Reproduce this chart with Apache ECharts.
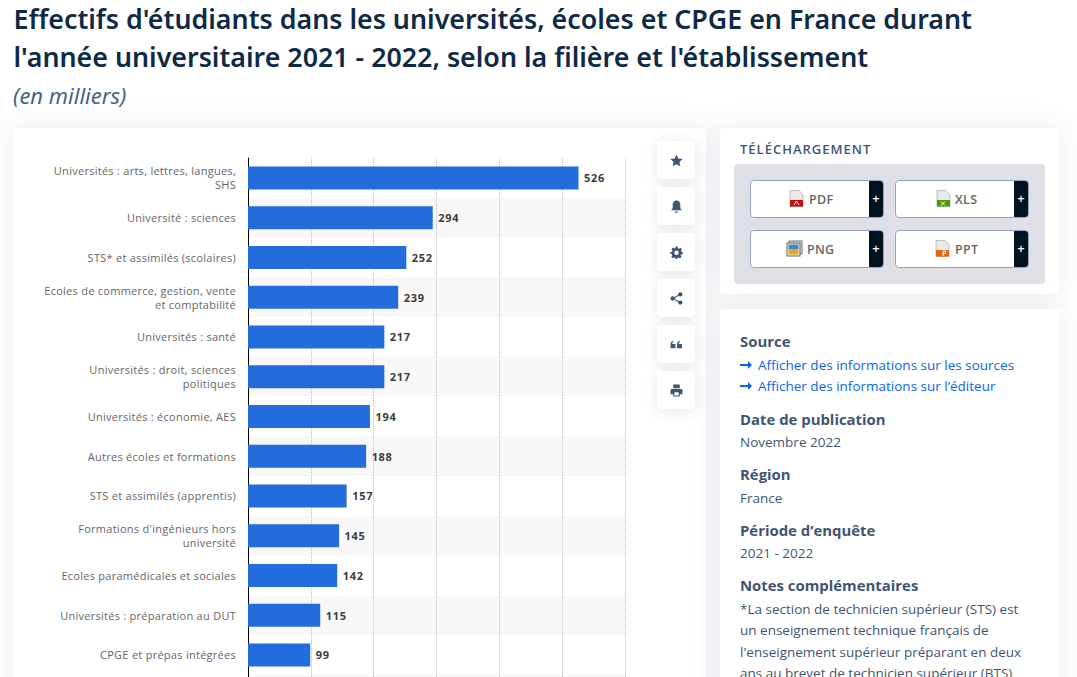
<!DOCTYPE html>
<html lang="fr"><head><meta charset="utf-8">
<script src="https://cdn.jsdelivr.net/npm/echarts@6/dist/echarts.min.js"></script>
<style>
html,body{margin:0;padding:0;width:1077px;height:677px;overflow:hidden;background:#fff;font-family:"Open Sans","Noto Sans",sans-serif}
.abs{position:absolute}
.card{position:absolute;background:#fff;border-radius:4px;box-shadow:0 0 30px rgba(20,45,90,.10)}
#chart{position:absolute;left:0;top:0;width:1077px;height:800px}
#chart text[style*="11px"]{letter-spacing:.27px}
#chart text[style*="bold"]{letter-spacing:.7px}
.tool{position:absolute;left:657px;width:38px;height:38px;background:#fff;border-radius:4px;box-shadow:0 2px 14px rgba(20,45,90,.12);display:flex;align-items:center;justify-content:center}
.tool svg{width:13px;height:13px;fill:#3f5573}
.btn{position:absolute;width:134px;height:38px;box-sizing:border-box;background:#fff;border:1px solid #93a5bf;border-radius:4px;overflow:hidden;color:#666;font-size:12.5px;font-weight:600;letter-spacing:.3px}
.btn .plus{position:absolute;right:0;top:0;bottom:0;width:14px;background:#02121f;color:#fff;font-size:13px;line-height:34px;text-align:center;font-weight:600;letter-spacing:0}
.btn .lab{position:absolute;top:0;line-height:37px}
.btn svg{position:absolute;top:9px;width:15px;height:17px}
.t{position:absolute;left:740px;white-space:nowrap;color:#3f5573}
.h{font-size:14.900px;font-weight:700;line-height:20px}
.p{font-size:13.500px;line-height:20px}
.a{font-size:13.500px;line-height:20px;color:#0666e5;left:758px}
.ar{position:absolute;left:740px;width:12px;height:8px}
</style></head><body>
<div class="card" style="left:13px;top:128px;width:693px;height:600px"></div>
<div class="card" style="left:720px;top:128px;width:339px;height:166px"></div>
<div class="card" style="left:720px;top:309px;width:339px;height:420px"></div>
<div id="chart"></div>

<div class="tool" style="top:141px"><svg viewBox="0 0 24 24"><path d="M12 1l3.4 7.4 8 .9-6 5.4 1.7 8L12 18.700l-7.100 4 1.700-8-6-5.400 8-.9z"/></svg></div>
<div class="tool" style="top:187px"><svg viewBox="0 0 24 24"><path d="M12 1c4.500 0 7 3.500 7 8v6l3 4H2l3-4V9c0-4.500 2.500-8 7-8zM9 21h6c0 1.500-1.300 2.500-3 2.500S9 22.500 9 21z"/></svg></div>
<div class="tool" style="top:233px"><svg viewBox="0 0 24 24"><path fill-rule="evenodd" d="M10 1h4l.6 3.200 2 .8 2.700-1.800 2.800 2.800-1.800 2.700.8 2L23.500 11v4l-3.200.6-.8 2 1.800 2.700-2.800 2.800-2.700-1.800-2 .8L13.500 25h-3l-.6-3.200-2-.8-2.700 1.800-2.800-2.800 1.800-2.700-.8-2L.5 14v-3l3.200-.6.800-2-1.800-2.700 2.800-2.800 2.700 1.800 2-.8zM12 8.500a4 4 0 1 0 0 8 4 4 0 0 0 0-8z"/></svg></div>
<div class="tool" style="top:279px"><svg viewBox="0 0 24 24"><circle cx="19" cy="4.500" r="4"/><circle cx="19" cy="19.500" r="4"/><circle cx="5" cy="12" r="4"/><path d="M5 11l13-7.500 1 2L7 12l12 6.500-1 2L5 13z"/></svg></div>
<div class="tool" style="top:325px"><svg viewBox="0 0 24 24"><path d="M1 19v-7c0-4 2-6 5-7v3c-1.500.5-2 1.500-2 3h6v8zM13 19v-7c0-4 2-6 5-7v3c-1.500.5-2 1.500-2 3h6v8z"/></svg></div>
<div class="tool" style="top:371px"><svg viewBox="0 0 24 24"><path fill-rule="evenodd" d="M6 1h12v7H6zM3 9h18a2 2 0 0 1 2 2v8h-5v4H6v-4H1v-8a2 2 0 0 1 2-2zM8 15v6h8v-6z"/></svg></div>

<div class="t" style="top:140px;font-size:13px;font-weight:600;letter-spacing:1px;line-height:18px">TÉLÉCHARGEMENT</div>
<div class="abs" style="left:734px;top:164px;width:311px;height:120px;background:#dee0e5;border-radius:4px"></div>

<div class="btn" style="left:750px;top:180px"><svg style="left:38px" viewBox="0 0 15 17"><path fill="#e9e9e9" stroke="#999" stroke-width=".6" d="M1 .5h9l4 4v12H1z"/><rect x="1" y="10" width="13" height="6.500" fill="#c60c0c"/><path d="M5 15l2.500-4 2.500 4" fill="none" stroke="#fff" stroke-width="1"/></svg><span class="lab" style="left:58px">PDF</span><span class="plus">+</span></div>
<div class="btn" style="left:895px;top:180px"><svg style="left:40px" viewBox="0 0 15 17"><path fill="#e9e9e9" stroke="#999" stroke-width=".6" d="M1 .5h9l4 4v12H1z"/><rect x="1" y="10" width="13" height="6.500" fill="#4c9a08"/><path d="M5 11.500l4 4m0-4l-4 4" fill="none" stroke="#fff" stroke-width="1"/></svg><span class="lab" style="left:59px">XLS</span><span class="plus">+</span></div>
<div class="btn" style="left:750px;top:230px"><svg style="left:35px;width:17px" viewBox="0 0 17 17"><rect x="3" y="1" width="13" height="13" fill="#ddd" stroke="#777"/><rect x="1" y="3" width="13" height="13" fill="#eee" stroke="#666"/><rect x="2.500" y="4.500" width="10" height="5" fill="#3d86c9"/><rect x="2.500" y="9.500" width="10" height="5" fill="#e5a51f"/></svg><span class="lab" style="left:56px">PNG</span><span class="plus">+</span></div>
<div class="btn" style="left:895px;top:230px"><svg style="left:39px" viewBox="0 0 15 17"><path fill="#e9e9e9" stroke="#999" stroke-width=".6" d="M1 .5h9l4 4v12H1z"/><rect x="1" y="10" width="13" height="6.500" fill="#e0660f"/><path d="M8 16v-5h2.500v2.500H8" fill="none" stroke="#fff" stroke-width="1"/></svg><span class="lab" style="left:59px">PPT</span><span class="plus">+</span></div>

<div class="t h" style="top:331px">Source</div>
<svg class="ar" style="top:361px" viewBox="0 0 12 8"><path fill="#0666e5" d="M0 3h8V0l4 4-4 4V5H0z"/></svg>
<div class="t a" style="top:355px">Afficher des informations sur les sources</div>
<svg class="ar" style="top:382px" viewBox="0 0 12 8"><path fill="#0666e5" d="M0 3h8V0l4 4-4 4V5H0z"/></svg>
<div class="t a" style="top:376px">Afficher des informations sur l’éditeur</div>
<div class="t h" style="top:409px">Date de publication</div>
<div class="t p" style="top:432px">Novembre 2022</div>
<div class="t h" style="top:464px">Région</div>
<div class="t p" style="top:488px">France</div>
<div class="t h" style="top:520px">Période d’enquête</div>
<div class="t p" style="top:543px">2021 - 2022</div>
<div class="t h" style="top:575px">Notes complémentaires</div>
<div class="t p" style="top:599px">*La section de technicien supérieur (STS) est</div>
<div class="t p" style="top:620px">un enseignement technique français de</div>
<div class="t p" style="top:642px">l'enseignement supérieur préparant en deux</div>
<div class="t p" style="top:663px">ans au brevet de technicien supérieur (BTS)</div>

<script>
const categories = [
  "Universités : arts, lettres, langues,\nSHS",
  "Université : sciences",
  "STS* et assimilés (scolaires)",
  "Ecoles de commerce, gestion, vente\net comptabilité",
  "Universités : santé",
  "Universités : droit, sciences\npolitiques",
  "Universités : économie, AES",
  "Autres écoles et formations",
  "STS et assimilés (apprentis)",
  "Formations d'ingénieurs hors\nuniversité",
  "Ecoles paramédicales et sociales",
  "Universités : préparation au DUT",
  "CPGE et prépas intégrées",
  ""
];
const effectifs = [526, 294, 252, 239, 217, 217, 194, 188, 157, 145, 142, 115, 99, null];
const titleText = "Effectifs d'étudiants dans les universités, écoles et CPGE en France durant\nl'année universitaire 2021 - 2022, selon la filière et l'établissement";
const subtitleText = "(en milliers)";

const chart = echarts.init(document.getElementById('chart'), null, {renderer:'svg'});
chart.setOption({
  animation:false,
  backgroundColor:'transparent',
  title:[
    {text:titleText,left:13.500,top:-1,padding:0,textStyle:{fontFamily:'Noto Sans',fontSize:26.800,fontWeight:600,color:'#0f2a47',lineHeight:38}},
    {text:subtitleText,left:13,top:82,padding:0,textStyle:{fontFamily:'Noto Sans',fontSize:22,fontStyle:'italic',fontWeight:400,color:'#4a6282',lineHeight:26}}
  ],
  grid:{left:248,top:158,width:377,height:556.5,containLabel:false},
  xAxis:{type:'value',min:0,max:600,interval:100,position:'top',
    axisLine:{show:false},axisTick:{show:false},axisLabel:{show:false},
    splitLine:{show:true,lineStyle:{color:'#bdbdbd',type:'dotted',width:1}}},
  yAxis:{type:'category',inverse:true,data:categories,
    axisLine:{show:true,lineStyle:{color:'#000',width:1}},axisTick:{show:false},
    axisLabel:{margin:12,color:'#666',fontFamily:'Open Sans',fontSize:11,lineHeight:14,align:'right'},
    splitArea:{show:true,areaStyle:{color:['#ffffff','#f8f8f8']}},
    splitLine:{show:false}},
  series:[{type:'bar',data:effectifs,barWidth:23,itemStyle:{color:'#236cdc'},
    label:{show:true,position:'right',distance:5.500,color:'#3c3c3c',fontFamily:'Open Sans',fontSize:11,fontWeight:'bold'}}]
});
</script>
</body></html>
